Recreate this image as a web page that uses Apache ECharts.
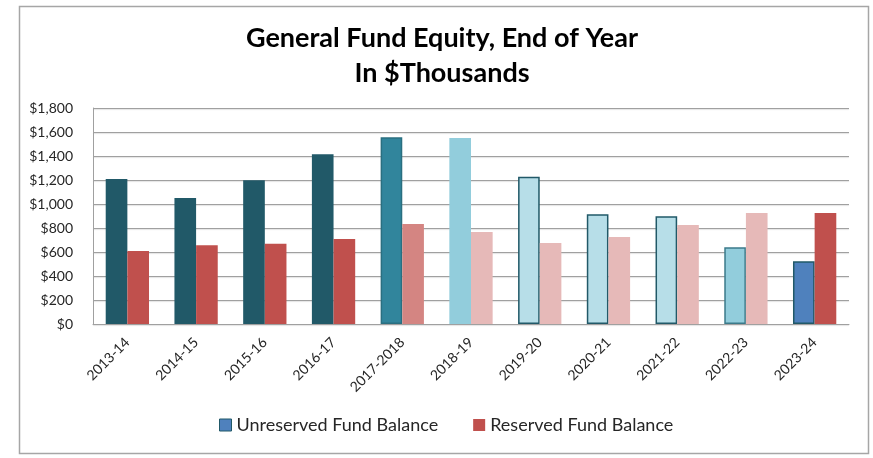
<!DOCTYPE html>
<html>
<head>
<meta charset="utf-8">
<script src="https://cdn.jsdelivr.net/npm/echarts@6/dist/echarts.min.js"></script>
<style>
html,body{margin:0;padding:0;background:#fff;}
#chart{width:873px;height:458px;}
</style>
</head>
<body>
<div id="chart"></div>
<script>
const categories = ['2013-14','2014-15','2015-16','2016-17','2017-2018','2018-19','2019-20','2020-21','2021-22','2022-23','2023-24'];
const unreserved = [1208, 1050, 1197, 1414, 1556, 1550, 1228, 914, 897, 639, 522];
const reserved = [608, 656, 669, 708, 833, 767, 675, 725, 825, 925, 925];
const yTicks = [0, 200, 400, 600, 800, 1000, 1200, 1400, 1600, 1800];

const unresFill = ['#215968','#215968','#215968','#215968','#31859C','#92CDDC','#B7DEE8','#B7DEE8','#B7DEE8','#92CDDC','#4F81BD'];
const unresBorder = [null,null,null,null,'#2A6F80',null,'#215968','#215968','#215968','#3B7A8A','#215968'];
const resFill = ['#C0504D','#C0504D','#C0504D','#C0504D','#D48582','#E6B9B8','#E6B9B8','#E6B9B8','#E6B9B8','#E6B9B8','#C0504D'];

const FONT = 'Lato, "Open Sans", sans-serif';

const chart = echarts.init(document.getElementById('chart'), null, {renderer:'canvas'});
chart.setOption({
  animation:false,
  backgroundColor:'#fff',
  graphic:[{
    type:'rect', left:17, top:4, shape:{width:849, height:447},
    style:{fill:'none', stroke:'#A6A6A6', lineWidth:1.5}, z:-1
  }],
  title:{
    text:'General Fund Equity, End of Year\nIn $Thousands',
    left:437, top:16, textAlign:'center',
    textStyle:{fontFamily:FONT, fontWeight:'bold', fontSize:27, color:'#000', lineHeight:35}
  },
  legend:{
    bottom:19, left:214, itemGap:35, itemWidth:12, itemHeight:12,
    textStyle:{fontFamily:FONT, fontSize:18, color:'#262626'},
    data:[
      {name:'Unreserved Fund Balance', icon:'rect', itemStyle:{color:'#4F81BD', borderColor:'#215968', borderWidth:1}},
      {name:'Reserved Fund Balance', icon:'rect', itemStyle:{color:'#C0504D', borderWidth:0}}
    ]
  },
  grid:{left:93, right:24, top:108, bottom:134, containLabel:false},
  xAxis:{
    type:'category', data:categories,
    axisLine:{lineStyle:{color:'#A0A0A0', width:1}},
    axisTick:{show:false},
    axisLabel:{rotate:45, margin:16, fontFamily:FONT, fontSize:14, color:'#262626', interval:0}
  },
  yAxis:{
    type:'value', min:0, max:1800, interval:200,
    axisLine:{show:true, lineStyle:{color:'#A0A0A0'}},
    axisTick:{show:false},
    splitLine:{lineStyle:{color:'#A0A0A0', width:1.2, shadowColor:'rgba(0,0,0,0.12)', shadowOffsetY:1, shadowBlur:1}},
    axisLabel:{margin:20, fontFamily:FONT, fontSize:14, color:'#262626',
      formatter:v => yTicks.includes(v) ? '$' + v.toLocaleString('en-US') : ''}
  },
  series:[
    {
      name:'Unreserved Fund Balance', type:'bar', barGap:'0%', barCategoryGap:'37%',
      itemStyle:{color:'#4F81BD'},
      data: unreserved.map((v,i)=>({value:v, itemStyle:{color:unresFill[i],
        borderColor:unresBorder[i]||unresFill[i], borderWidth:unresBorder[i]?1.5:0}}))
    },
    {
      name:'Reserved Fund Balance', type:'bar', barGap:'0%', barCategoryGap:'37%',
      itemStyle:{color:'#C0504D'},
      data: reserved.map((v,i)=>({value:v, itemStyle:{color:resFill[i]}}))
    }
  ]
});
</script>
</body>
</html>
